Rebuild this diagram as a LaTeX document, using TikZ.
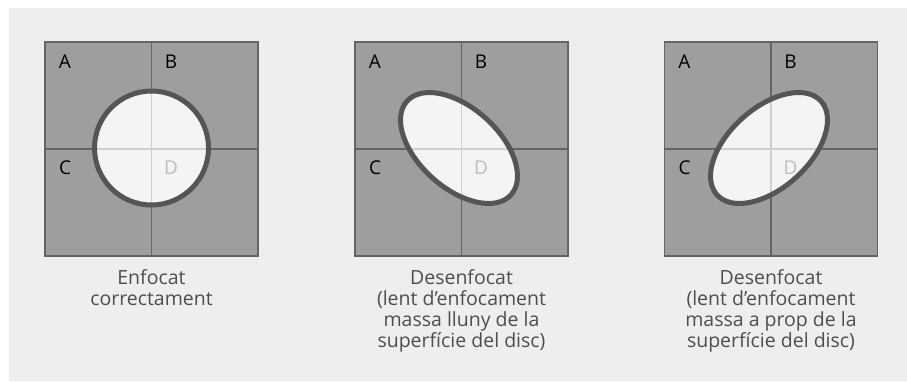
\documentclass[tikz,border=0pt]{standalone}
\usepackage{fontspec}
\setmainfont{Open Sans}
\definecolor{panelbg}{HTML}{EEEEEE}
\definecolor{sqfill}{HTML}{9E9E9E}
\definecolor{sqline}{HTML}{646464}
\definecolor{ringc}{HTML}{555555}
\definecolor{discfill}{HTML}{F4F4F4}
\definecolor{innerline}{HTML}{CFCFCF}
\definecolor{dlabel}{HTML}{BDBDBD}
\definecolor{captc}{HTML}{4E4E4E}
\tikzset{
  sqbox/.style={fill=sqfill, draw=sqline, line width=1.4pt},
  crossline/.style={draw=sqline, line width=1.2pt},
  innercross/.style={draw=innerline, line width=1.2pt},
  ring/.style={draw=ringc, line width=5pt},
  quadlabel/.style={font=\fontsize{19}{21}\selectfont, text=black, inner sep=0pt},
  dquad/.style={quadlabel, text=dlabel},
  caption/.style={font=\fontsize{19.5}{21}\selectfont, text=captc, align=center, anchor=north, inner sep=0pt}
}
% #1 left x, #2 disc shape (path without draw), #3 name prefix
\newcommand\quadpanel[3]{%
  \path[sqbox] (#1,42) rectangle ++(213,214);
  \draw[crossline] (#1+106.5,42) -- (#1+106.5,256);
  \draw[crossline] (#1,149) -- (#1+213,149);
  \fill[discfill] #2;
  \begin{scope}
    \clip #2;
    \draw[innercross] (#1+106.5,42) -- (#1+106.5,256);
    \draw[innercross] (#1,149) -- (#1+213,149);
  \end{scope}
  \draw[ring] #2;
  \node[quadlabel] (#3A) at (#1+20,62) {A};
  \node[quadlabel] (#3B) at (#1+126,62) {B};
  \node[quadlabel] (#3C) at (#1+20,168) {C};
  \node[dquad] (#3D) at (#1+126,168) {D};
}
\begin{document}
\begin{tikzpicture}[x=1pt,y=-1pt]
\useasboundingbox (0,0) rectangle (907,381);
\fill[white] (0,0) rectangle (907,381);
\fill[panelbg] (9,8) rectangle (907,381);

\quadpanel{45}{(151.5,148) circle [radius=57]}{p}
\quadpanel{355}{[rotate around={-42:(459,148)}] (459,148) ellipse [x radius=70, y radius=40]}{q}
\quadpanel{664.5}{[rotate around={42:(769,148)}] (769,148) ellipse [x radius=70, y radius=40]}{r}

\node[caption] (cap1) at (151.5,269.5) {Enfocat\\correctament};
\node[caption] (cap2) at (461.5,269.5) {Desenfocat\\(lent d’enfocament\\massa lluny de la\\superfície del disc)};
\node[caption] (cap3) at (771,269.5) {Desenfocat\\(lent d’enfocament\\massa a prop de la\\superfície del disc)};
\end{tikzpicture}
\end{document}
